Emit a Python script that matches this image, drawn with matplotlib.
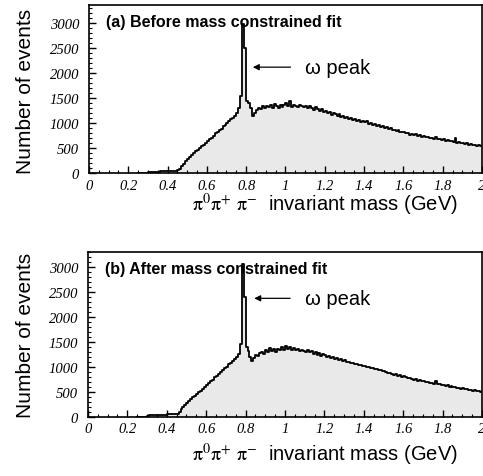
import numpy as np
import matplotlib
matplotlib.use("Agg")
import matplotlib.pyplot as plt
from matplotlib.ticker import MultipleLocator, FixedLocator

plt.rcParams["mathtext.fontset"] = "stix"

# histogram bins: 0.01 GeV wide, starting at 0.25 GeV
bin_start = 0.25
bin_width = 0.01

# (a) before mass constrained fit
counts_before = [
    0, 0, 0, 0, 0,
    20, 25, 25, 30, 30, 30, 35, 35, 40, 40,
    40, 45, 45, 50, 50, 55, 90, 140, 190, 240,
    290, 330, 370, 400, 440, 470, 500, 540, 570, 600,
    640, 680, 700, 740, 800, 830, 870, 880, 940, 960,
    1000, 1040, 1080, 1100, 1150, 1200, 1300, 1550, 2980, 2500,
    1450, 1400, 1300, 1150, 1200, 1260, 1300, 1280, 1340, 1300,
    1350, 1320, 1360, 1300, 1380, 1340, 1310, 1370, 1330, 1360,
    1400, 1350, 1440, 1330, 1370, 1350, 1320, 1360, 1340, 1330,
    1350, 1310, 1340, 1300, 1260, 1330, 1280, 1250, 1290, 1230,
    1240, 1200, 1230, 1170, 1210, 1180, 1150, 1180, 1120, 1150,
    1110, 1130, 1080, 1100, 1070, 1080, 1040, 1060, 1030, 1050,
    1020, 1040, 990, 1010, 970, 980, 950, 960, 930, 940,
    910, 920, 880, 900, 860, 870, 840, 860, 820, 830,
    820, 800, 810, 770, 790, 760, 780, 740, 760, 720,
    740, 720, 730, 700, 710, 690, 730, 680, 690, 660,
    680, 650, 670, 640, 650, 620, 700, 610, 630, 600,
    610, 590, 600, 570, 580, 560, 570, 550, 560, 540,
]

# (b) after mass constrained fit
counts_after = [
    0, 0, 0, 0, 0,
    25, 30, 30, 35, 35, 40, 40, 45, 45, 45,
    50, 50, 50, 55, 55, 60, 100, 150, 200, 240,
    280, 320, 350, 390, 420, 460, 500, 520, 560, 600,
    630, 680, 720, 740, 790, 820, 860, 900, 930, 980,
    1000, 1050, 1080, 1120, 1160, 1200, 1260, 1450, 3050, 2400,
    1400, 1320, 1200, 1120, 1180, 1240, 1220, 1280, 1300, 1260,
    1340, 1300, 1380, 1320, 1350, 1300, 1360, 1330, 1390, 1340,
    1420, 1350, 1400, 1330, 1370, 1340, 1360, 1310, 1340, 1320,
    1300, 1330, 1290, 1310, 1260, 1290, 1240, 1270, 1220, 1250,
    1230, 1200, 1210, 1180, 1190, 1150, 1170, 1130, 1160, 1120,
    1130, 1090, 1100, 1070, 1080, 1050, 1060, 1030, 1040, 1010,
    1020, 990, 1000, 970, 980, 950, 960, 930, 940, 910,
    910, 890, 880, 870, 860, 840, 850, 820, 830, 800,
    810, 790, 780, 770, 760, 740, 750, 720, 730, 710,
    710, 690, 700, 670, 680, 660, 720, 650, 660, 630,
    640, 620, 630, 600, 610, 590, 600, 570, 580, 560,
    570, 550, 560, 530, 540, 520, 530, 510, 520, 500,
]

panels = [
    ("(a) Before mass constrained fit", counts_before, (0.82, 2120), 3360),
    ("(b) After mass constrained fit", counts_after, (0.83, 2370), 3300),
]

y_ticks = [0, 500, 1000, 1500, 2000, 2500, 3000]
x_ticks = [0, 0.2, 0.4, 0.6, 0.8, 1.0, 1.2, 1.4, 1.6, 1.8, 2.0]
x_tick_labels = ["0", "0.2", "0.4", "0.6", "0.8", "1", "1.2", "1.4", "1.6", "1.8", "2"]

fig = plt.figure(figsize=(4.83, 4.77), dpi=100)
rects = [[0.184, 0.635, 0.814, 0.352], [0.182, 0.124, 0.816, 0.346]]
xlabel_y = [0.570, 0.046]
ylabel_y = [0.808, 0.296]

for k, (title, counts, arrow_xy, ytop) in enumerate(panels):
    ax = fig.add_axes(rects[k])
    counts = np.array(counts, dtype=float)
    edges = bin_start + bin_width * np.arange(len(counts) + 1)
    yy = np.append(counts, counts[-1])
    ax.fill_between(edges, yy, step="post", facecolor="#e9e9e9",
                    edgecolor="none")
    ax.step(edges, yy, where="post", color="black", lw=1.3)

    ax.set_xlim(0, 2)
    ax.set_ylim(0, ytop)
    ax.xaxis.set_major_locator(FixedLocator(x_ticks))
    ax.set_xticklabels(x_tick_labels)
    ax.xaxis.set_minor_locator(MultipleLocator(0.05))
    ax.set_yticks(y_ticks)
    ax.yaxis.set_minor_locator(MultipleLocator(100))
    ax.tick_params(which="both", direction="in", top=False, right=False)
    ax.tick_params(which="major", length=5, width=1)
    ax.tick_params(which="minor", length=2.5, width=0.8)
    ax.tick_params(axis="y", pad=7)
    ax.tick_params(axis="x", pad=4)
    for lab in ax.get_xticklabels() + ax.get_yticklabels():
        lab.set_fontfamily("Liberation Serif")
        lab.set_fontstyle("italic")
        lab.set_fontsize(10.5)
    for sp in ax.spines.values():
        sp.set_linewidth(1.2)

    ax.text(0.043, 0.90, title, transform=ax.transAxes, fontsize=11.5,
            fontweight="bold", family="Liberation Sans", va="center")

    ax.annotate("", xy=arrow_xy, xytext=(1.04, arrow_xy[1]),
                arrowprops=dict(arrowstyle="-|>", color="black", lw=0.9,
                                mutation_scale=9))
    ax.text(1.10, arrow_xy[1], "ω peak", fontsize=14.5,
            family="Liberation Sans", va="center")

    fig.text(0.672, xlabel_y[k],
             r"$\mathrm{\pi}^{\mathrm{0}}\mathrm{\pi}^{+}\ \mathrm{\pi}^{-}$  invariant mass (GeV)",
             fontsize=14.5, family="Liberation Sans", ha="center", va="center")
    fig.text(0.052, ylabel_y[k], "Number of events", fontsize=15,
             family="Liberation Sans", rotation=90, ha="center", va="center")

fig.savefig("out.png", dpi=100)
